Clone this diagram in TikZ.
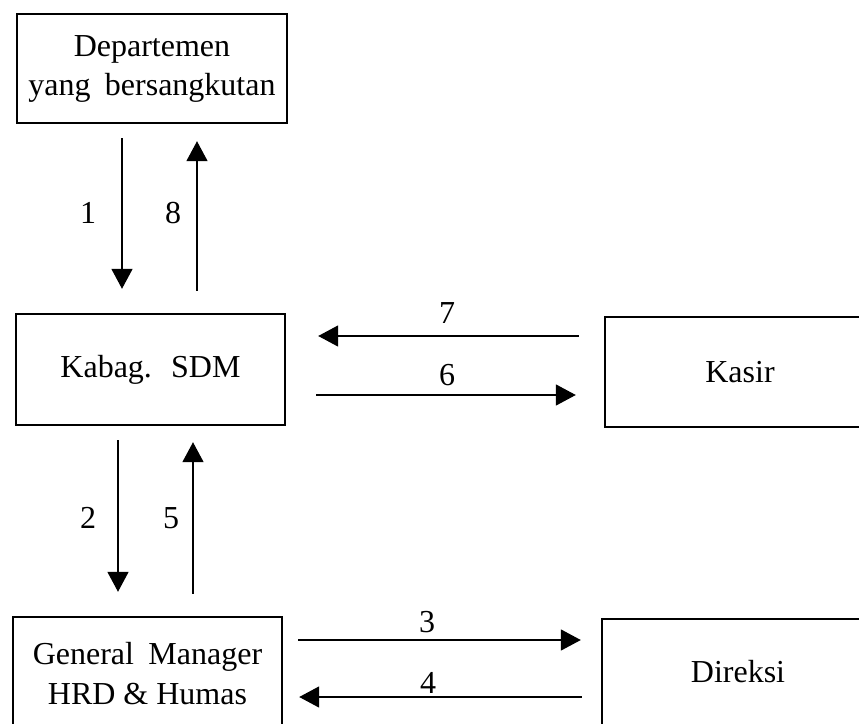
\documentclass[tikz,border=0pt]{standalone}
\usepackage{fontspec}
\setmainfont{Liberation Serif}
\usetikzlibrary{arrows.meta,calc}
\begin{document}
\begin{tikzpicture}[x=1pt,y=-1pt,
  box/.style={draw, line width=2.4pt, inner sep=0pt, align=center,
    font=\fontsize{32}{39}\selectfont},
  flow/.style={line width=1.6pt, -{Triangle[length=20pt,width=21pt]}},
  num/.style={font=\fontsize{32}{39}\selectfont, inner sep=0pt}]
  \useasboundingbox (0,0) rectangle (859,723);
  \clip (0,0) rectangle (859,723);

  % boxes (the lower row runs past the bottom edge)
  \node[box, minimum width=270pt, minimum height=109pt] (dep) at (152,68.5)
    {Departemen\\yang\hspace{0.45em}bersangkutan};
  \node[box, minimum width=269pt, minimum height=111pt] (kabag) at (150.5,369.5)
    {Kabag.\hspace{0.6em}SDM};
  \node[box, minimum width=270pt, minimum height=110pt] (kasir) at (740,372)
    {Kasir};
  \node[box, minimum width=269pt, minimum height=120pt] (gm) at (147.5,677)
    {\raisebox{14pt}{\begin{tabular}{@{}c@{}}General\hspace{0.45em}Manager\\[1pt]HRD \& Humas\end{tabular}}};
  \node[box, minimum width=272pt, minimum height=120pt] (direksi) at (738,679)
    {\raisebox{16pt}{Direksi}};

  % vertical flows
  \draw[flow] ($(dep.south)+(-30,14)$) -- ($(kabag.north)+(-28.5,-24)$);
  \draw[flow] ($(kabag.north)+(46.5,-22)$) -- ($(dep.south)+(45,17)$);
  \draw[flow] ($(kabag.south)+(-32.5,14)$) -- ($(gm.north)+(-29.5,-24)$);
  \draw[flow] ($(gm.north)+(45.5,-22)$) -- ($(kabag.south)+(42.5,16)$);

  % horizontal flows
  \draw[flow] ($(kasir.west)+(-25,-36)$) -- ($(kabag.east)+(32,-33.5)$);
  \draw[flow] ($(kabag.east)+(30,25.5)$) -- ($(kasir.west)+(-28,23)$);
  \draw[flow] ($(gm.east)+(15,-37)$) -- ($(direksi.west)+(-20,-39)$);
  \draw[flow] ($(direksi.west)+(-19,18)$) -- ($(gm.east)+(16,20)$);

  % step numbers
  \node[num] (l1) at (88,213) {1};
  \node[num] (l8) at (173,213) {8};
  \node[num] (l2) at (88,518) {2};
  \node[num] (l5) at (171,518) {5};
  \node[num] (l7) at (447,313) {7};
  \node[num] (l6) at (447,375) {6};
  \node[num] (l3) at (427,622) {3};
  \node[num] (l4) at (428,683) {4};
\end{tikzpicture}
\end{document}
